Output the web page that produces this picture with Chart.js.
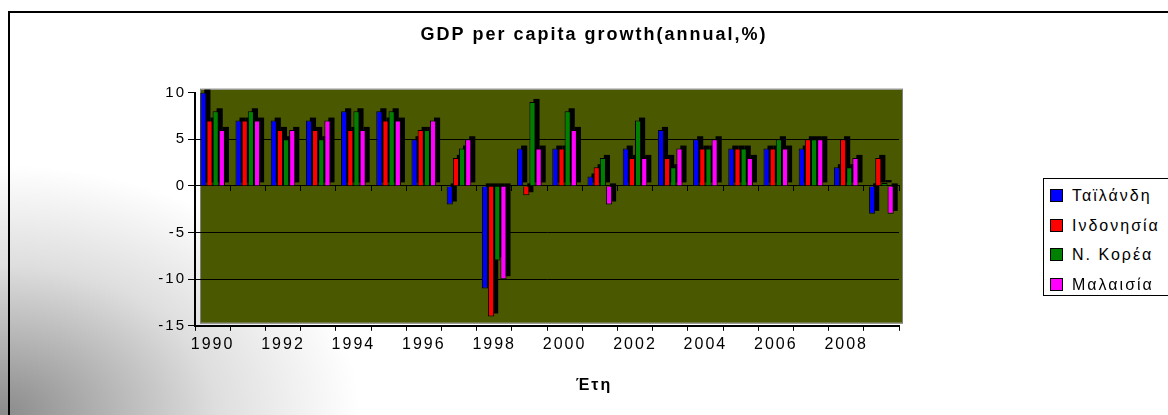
<!DOCTYPE html>
<html>
<head>
<meta charset="utf-8">
<script src="https://cdn.jsdelivr.net/npm/chart.js@4.4.1/dist/chart.umd.min.js"></script>
<style>
html, body { margin: 0; padding: 0; }
body {
    width: 1168px; height: 415px; position: relative; overflow: hidden;
    background: radial-gradient(ellipse 360px 250px at 0 100%, #8a8a8a 0%, #b4b4b4 30%, #dedede 60%, #ffffff 100%);
}
#frame {
    position: absolute; left: 8px; top: 11px; width: 1200px; height: 440px;
    border-left: 2px solid #000; border-top: 2px solid #000;
}
#chart { position: absolute; left: 0; top: 0; }
#legend {
    position: absolute; left: 1043px; top: 178px; width: 130px; height: 118px;
    border: 1px solid #000; background: #fff; box-sizing: border-box;
    font: 16px "Liberation Sans", Arial, sans-serif; letter-spacing: 2px; color: #000;
    padding-top: 2px;
}
#legend .item { height: 29.5px; line-height: 29.5px; white-space: nowrap; position: relative; }
#legend .box {
    position: absolute; left: 6px; top: 8px; width: 11px; height: 11px; border: 1px solid #000;
}
#legend .txt { position: absolute; left: 28px; top: 0; }
</style>
</head>
<body>
<div id="frame"></div>
<canvas id="chart" width="1168" height="415"></canvas>
<div id="legend"></div>
<script>
// DATA
var years = ['1990', '1991', '1992', '1993', '1994', '1995', '1996', '1997', '1998', '1999',
             '2000', '2001', '2002', '2003', '2004', '2005', '2006', '2007', '2008', '2009'];
var seriesNames = ['Ταϊλάνδη', 'Ινδονησία', 'Ν. Κορέα', 'Μαλαισία'];
var thailand  = [10, 7, 7, 7, 8, 8, 5, -2, -11, 4, 4, 1, 4, 6, 5, 4, 4, 4, 2, -3];
var indonesia = [7, 7, 6, 6, 6, 7, 6, 3, -14, -1, 4, 2, 3, 3, 4, 4, 4, 5, 5, 3];
var korea     = [8, 8, 5, 5, 8, 8, 6, 4, -8, 9, 8, 3, 7, 2, 4, 4, 5, 5, 2, 0.3];
var malaysia  = [6, 7, 6, 7, 6, 7, 7, 5, -10, 4, 6, -2, 3, 4, 5, 3, 4, 5, 3, -3];
var yTicks = [-15, -10, -5, 0, 5, 10];

var colors = ['#0000ff', '#ff0000', '#008000', '#ff00ff'];
var values = [thailand, indonesia, korea, malaysia];

var datasets = [];
for (var i = 0; i < seriesNames.length; i++) {
    datasets.push({
        label: seriesNames[i],
        data: values[i],
        backgroundColor: colors[i],
        borderColor: '#000',
        borderWidth: 1,
        categoryPercentage: 0.7,
        barPercentage: 1.0
    });
}

// text in the picture is drawn wide, so space the letters out
var spacing = {
    id: 'spacing',
    beforeLayout: function (chart) { chart.ctx.letterSpacing = '2px'; },
    beforeDraw: function (chart) { chart.ctx.letterSpacing = '2px'; }
};

// olive back wall of the plot
var wall = {
    id: 'wall',
    beforeDraw: function (chart) {
        var ctx = chart.ctx, a = chart.chartArea;
        ctx.save();
        ctx.fillStyle = '#4a5800';
        ctx.fillRect(a.left + 6, a.top - 3, a.right - a.left - 3, a.bottom - a.top);
        ctx.strokeStyle = '#808080';
        ctx.lineWidth = 1;
        ctx.strokeRect(a.left + 5.5, a.top - 3.5, a.right - a.left - 2, a.bottom - a.top + 1);
        ctx.restore();
    }
};

// black depth behind each bar
var depth = {
    id: 'depth',
    beforeDatasetsDraw: function (chart) {
        var ctx = chart.ctx;
        ctx.save();
        ctx.fillStyle = '#000';
        chart.data.datasets.forEach(function (ds, i) {
            chart.getDatasetMeta(i).data.forEach(function (bar) {
                var left = bar.x - bar.width / 2;
                var top = Math.min(bar.y, bar.base);
                var h = Math.abs(bar.base - bar.y);
                ctx.fillRect(left + 4, top - 3, bar.width, h);
            });
        });
        ctx.restore();
    }
};

var chart = new Chart(document.getElementById('chart'), {
    type: 'bar',
    data: { labels: years, datasets: datasets },
    plugins: [spacing, wall, depth],
    options: {
        responsive: false,
        animation: false,
        devicePixelRatio: 1,
        layout: { padding: { left: 20, right: 0, top: 0, bottom: 10 } },
        plugins: {
            legend: { display: false },
            tooltip: { enabled: false },
            title: {
                display: true,
                text: 'GDP per capita growth(annual,%)',
                color: '#000',
                font: { family: '"Liberation Sans", Arial', size: 18, weight: 'bold' },
                padding: { top: 24, bottom: 47 }
            },
            subtitle: {
                display: true,
                position: 'bottom',
                text: 'Έτη',
                color: '#000',
                font: { family: '"Liberation Sans", Arial', size: 16, weight: 'bold' },
                padding: { top: 20, bottom: 10 }
            }
        },
        scales: {
            x: {
                position: 'bottom',
                grid: { display: true, drawOnChartArea: false, color: '#000', tickLength: 5, offset: true },
                border: { color: '#000', width: 2 },
                ticks: {
                    autoSkip: false,
                    maxRotation: 0,
                    padding: 4,
                    color: '#000',
                    font: { family: '"Liberation Sans", Arial', size: 16 },
                    callback: function (v, i) { return i % 2 === 0 ? years[i] : ''; }
                },
                afterFit: function (s) { s.height = 30; }
            },
            x2: {
                type: 'category',
                labels: years,
                position: { y: 0 },
                offset: true,
                grid: { display: true, drawOnChartArea: false, color: '#000', tickLength: 5, offset: true },
                border: { color: '#000', width: 1 },
                ticks: { display: false }
            },
            y: {
                min: -15,
                max: 10,
                ticks: {
                    stepSize: 5,
                    padding: 2,
                    color: '#000',
                    font: { family: '"Liberation Sans", Arial', size: 15 }
                },
                afterBuildTicks: function (s) {
                    s.ticks = yTicks.map(function (v) { return { value: v }; });
                },
                grid: {
                    color: function (c) { return c.tick && c.tick.value === 10 ? 'rgba(0,0,0,0)' : '#000'; },
                    tickColor: '#000',
                    tickLength: 7
                },
                border: { color: '#000', width: 2 },
                afterFit: function (s) { s.width = 175; }
            },
            y2: {
                position: 'right',
                min: 0,
                max: 1,
                ticks: { display: false },
                grid: { display: false },
                border: { display: false },
                afterFit: function (s) { s.width = 269; }
            }
        }
    }
});

// LEGEND
var legend = document.getElementById('legend');
seriesNames.forEach(function (name, i) {
    var row = document.createElement('div');
    row.className = 'item';
    row.innerHTML = '<span class="box" style="background:' + colors[i] + '"></span><span class="txt"></span>';
    row.querySelector('.txt').textContent = name;
    legend.appendChild(row);
});
</script>
</body>
</html>
